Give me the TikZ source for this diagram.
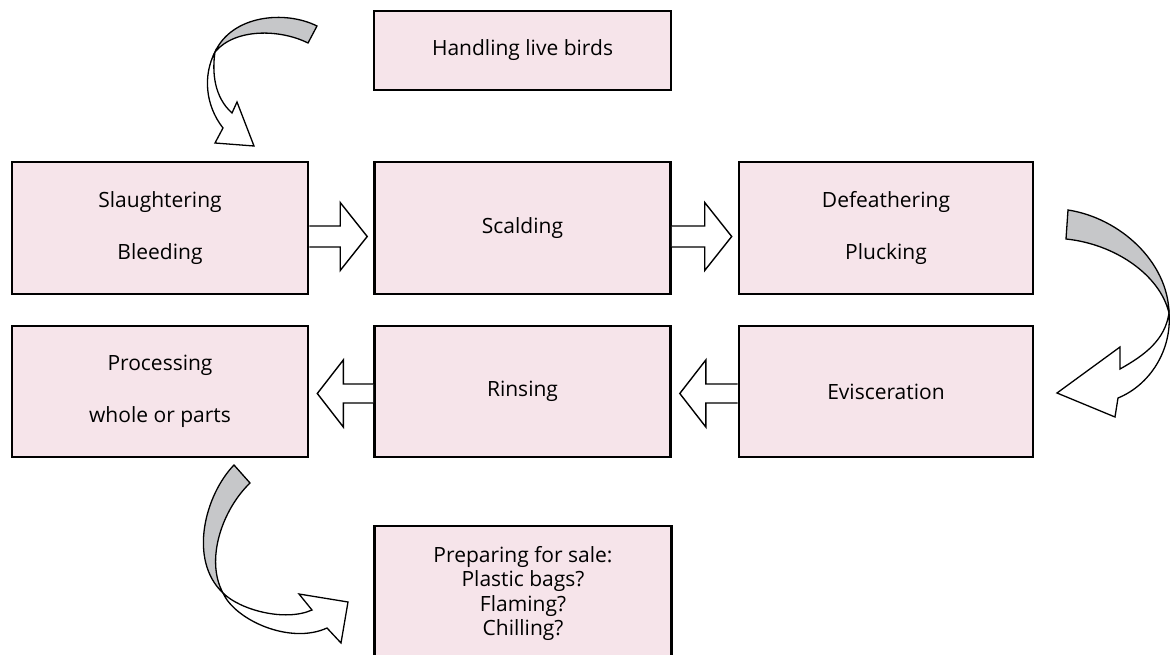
\documentclass[tikz,border=0pt]{standalone}
\usepackage{fontspec}
\setmainfont{Open Sans}
\usetikzlibrary{calc}
\definecolor{boxpink}{HTML}{F6E4EA}
\definecolor{bandgrey}{HTML}{C6C7C9}
\tikzset{
  box/.style={draw=black, line width=2.6pt, fill=boxpink, inner sep=0pt,
    font=\fontsize{21}{24.5}\selectfont, align=center},
  blockarrow/.style={draw=black, line width=1.4pt, fill=white, line join=miter},
  curvearrow/.style={draw=black, line width=1.3pt, fill=white, line join=miter},
  curveband/.style={draw=black, line width=1.3pt, fill=bandgrey, line join=miter}
}
\begin{document}
\begin{tikzpicture}[x=1pt,y=-1pt]
\clip (0,0) rectangle (1171,655);
\fill[white] (0,0) rectangle (1171,655);

% boxes
\node[box, minimum width=297, minimum height=79] (hand) at (522.5,50.5) {Handling live birds};
\node[box, minimum width=296, minimum height=132] (slau) at (160,228) {Slaughtering\\[28pt]Bleeding};
\node[box, minimum width=296, minimum height=132] (scal) at (522.5,228) {Scalding};
\node[box, minimum width=294, minimum height=132] (defe) at (886,228) {Defeathering\\[28pt]Plucking};
\node[box, minimum width=296, minimum height=131] (proc) at (160,391.5) {Processing\\[28pt]whole or parts};
\node[box, minimum width=296, minimum height=131] (rins) at (522.5,391.5) {Rinsing};
\node[box, minimum width=294, minimum height=131] (evis) at (886,391.5) {Evisceration};
\node[box, minimum width=297, minimum height=135] (prep) at (523,593.5) {Preparing for sale:\\Plastic bags?\\Flaming?\\Chilling?};

% straight block arrows (right)
\foreach \a/\b in {slau/scal, scal/defe}{
  \draw[blockarrow]
    let \p1=(\a.east), \p2=(\b.west) in
    (\x1,236.5-10.5) -- (\x2-33,236.5-10.5) -- (\x2-33,236.5-34) -- (\x2-6,236.5)
    -- (\x2-33,236.5+34) -- (\x2-33,236.5+10.5) -- (\x1,236.5+10.5);
}
% straight block arrows (left)
\foreach \a/\b in {evis/rins, rins/proc}{
  \draw[blockarrow]
    let \p1=(\a.west), \p2=(\b.east) in
    (\x1,393.5-9.5) -- (\x2+34,393.5-9.5) -- (\x2+34,393.5-33.5) -- (\x2+8,393.5)
    -- (\x2+34,393.5+33.5) -- (\x2+34,393.5+9.5) -- (\x1,393.5+9.5);
}

% curved arrow 1 (top)
\draw[curvearrow] (215,52) .. controls (203,75) and (205,105) .. (223,128)
  -- (215,143) -- (254,146) -- (237,102) -- (232,113)
  .. controls (214,97) and (212,72) .. (215,52) -- cycle;
\draw[curveband] (317,26) .. controls (285,10) and (232,15) .. (215,52)
  .. controls (235,28) and (280,29) .. (308,43) -- cycle;

% curved arrow 2 (right)
\draw[curvearrow] (1169,313) .. controls (1172,350) and (1150,385) .. (1118,398)
  -- (1115,417) -- (1057,393) -- (1120,347) -- (1120,369)
  .. controls (1145,355) and (1165,340) .. (1169,313) -- cycle;
\draw[curveband] (1068,210) .. controls (1120,218) and (1168,262) .. (1169,313)
  .. controls (1160,275) and (1115,244) .. (1066,239) -- cycle;

% curved arrow 3 (bottom)
\draw[curvearrow] (223,593) .. controls (235,620) and (290,645) .. (327,628)
  -- (341,643) -- (348,602) -- (299,594) -- (312,610)
  .. controls (285,622) and (240,610) .. (223,593) -- cycle;
\draw[curveband] (234,465) .. controls (205,495) and (188,560) .. (223,593)
  .. controls (205,560) and (222,510) .. (250,483) -- cycle;
\end{tikzpicture}
\end{document}
